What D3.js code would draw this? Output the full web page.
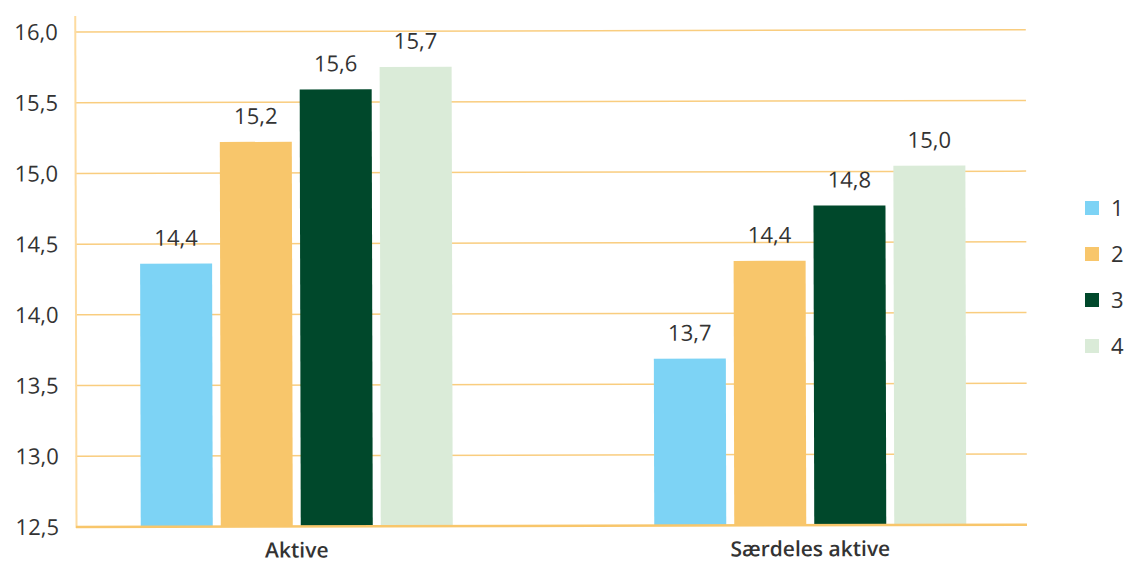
<!DOCTYPE html>
<html><head><meta charset="utf-8">
<script src="https://cdn.jsdelivr.net/npm/d3@7"></script>
<style>body{margin:0;background:#fff}svg{display:block}text{font-family:"Open Sans",sans-serif;fill:#333}</style>
</head><body><svg id="c" width="1126" height="563"></svg>
<script>
const categories = ["Aktive", "Særdeles aktive"];
const seriesNames = ["1", "2", "3", "4"];
const series1 = [14.36, 13.68];
const series2 = [15.22, 14.37];
const series3 = [15.59, 14.76];
const series4 = [15.748, 15.04];
const yTicks = [12.5, 13.0, 13.5, 14.0, 14.5, 15.0, 15.5, 16.0];
const colors = ["#7dd3f5", "#f8c66b", "#00482b", "#daebd8"];
const allSeries = [series1, series2, series3, series4];

const svg = d3.select("#c");
const g = svg.append("g").attr("transform", "rotate(-0.14,76,527)");
const y = d3.scaleLinear().domain([12.5, 16]).range([527, 32]);
const x0 = d3.scaleBand().domain(categories).range([40, 1067]).paddingInner(0).paddingOuter(0);
const x1 = d3.scaleBand().domain(seriesNames).range([0, 320]).paddingInner(0.1).paddingOuter(0.05);
const fmt = v => d3.format(".1f")(v).replace(".", ",");

// gridlines
g.append("g").selectAll("line").data(yTicks.filter(t => t > 12.5)).join("line")
  .attr("x1", 76).attr("x2", 1027).attr("y1", d => y(d)).attr("y2", d => y(d))
  .attr("stroke", "#f9cd7f").attr("stroke-width", 1.5);
// y axis line
g.append("line").attr("x1", 76.5).attr("x2", 76.5).attr("y1", 16).attr("y2", 528)
  .attr("stroke", "#fddba0").attr("stroke-width", 2);
// tick labels
g.append("g").selectAll("text").data(yTicks).join("text")
  .attr("x", 59).attr("y", d => y(d)).attr("dy", "0.36em").attr("text-anchor", "end")
  .style("font-size", "22px").text(d => fmt(d));

// bars
const groups = g.append("g").selectAll("g").data(categories).join("g")
  .attr("transform", c => `translate(${x0(c) + x0.bandwidth()/2 - 160},0)`);
groups.each(function(c, ci) {
  const sel = d3.select(this);
  seriesNames.forEach((s, si) => {
    const v = allSeries[si][ci];
    sel.append("rect").attr("x", x1(s)).attr("width", x1.bandwidth())
      .attr("y", y(v)).attr("height", y(12.5) - y(v)).attr("fill", colors[si]);
    sel.append("text").attr("x", x1(s) + x1.bandwidth()/2).attr("y", y(v) - 18)
      .attr("text-anchor", "middle").style("font-size", "22px").text(fmt(v));
  });
});
// baseline
g.append("line").attr("x1", 76).attr("x2", 1027).attr("y1", y(12.5)).attr("y2", y(12.5))
  .attr("stroke", "#f8c66b").attr("stroke-width", 2.5);
// category labels
g.append("g").selectAll("text").data(categories).join("text")
  .attr("x", c => x0(c) + x0.bandwidth()/2).attr("y", 558).attr("text-anchor", "middle")
  .style("font-size", "21px").style("font-weight", 600).text(c => c);

// legend
const leg = svg.append("g").selectAll("g").data(seriesNames).join("g")
  .attr("transform", (d, i) => `translate(1085,${201 + i*46})`);
leg.append("rect").attr("width", 14).attr("height", 14).attr("fill", (d, i) => colors[i]);
leg.append("text").attr("x", 26).attr("y", 7).attr("dy", "0.36em").style("font-size", "22px").text(d => d);
</script></body></html>
